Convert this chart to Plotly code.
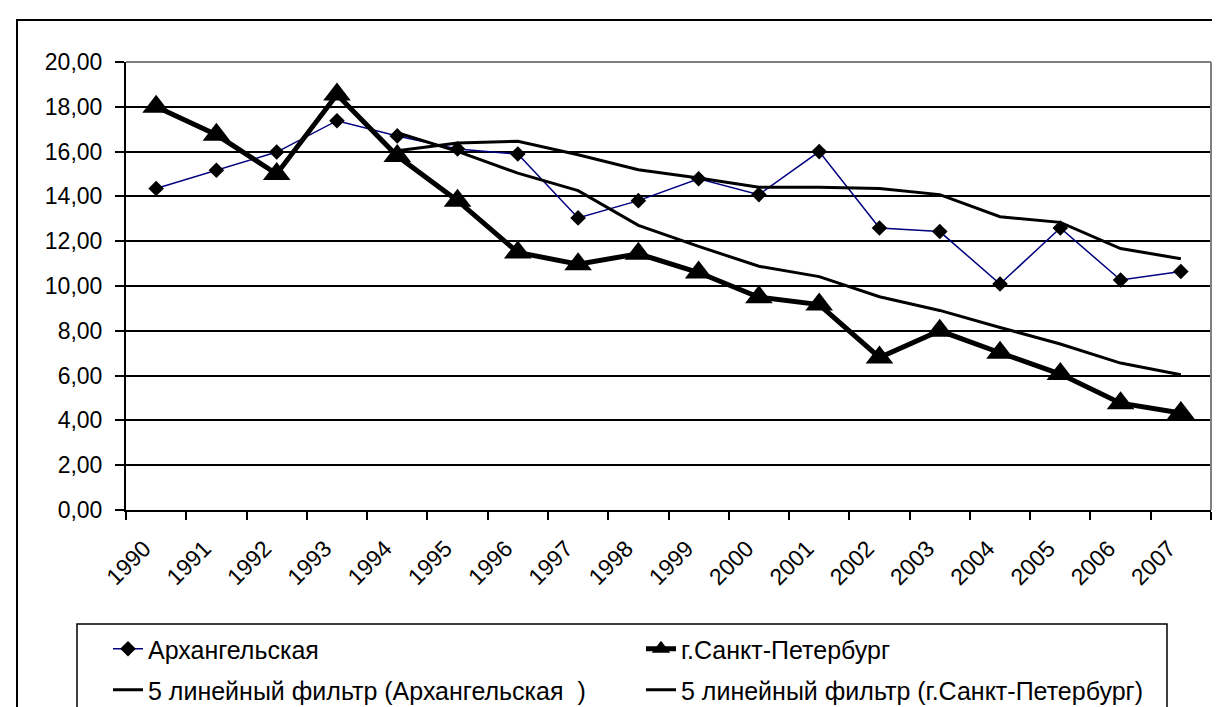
import plotly.graph_objects as go

years = [str(y) for y in range(1990, 2008)]
arkh = [14.35, 15.17, 15.98, 17.38, 16.70, 16.12, 15.89, 13.04, 13.81, 14.79, 14.08,
        16.0, 12.59, 12.43, 10.09, 12.59, 10.27, 10.65]
spb = [18.0, 16.75, 15.0, 18.55, 15.8, 13.81, 11.5, 10.97, 11.44, 10.6, 9.5,
       9.17, 6.81, 8.0, 7.02, 6.07, 4.77, 4.33]
ma_years = years[4:]
arkh_ma = [16.04, 16.38, 16.46, 15.86, 15.19, 14.82, 14.41, 14.41, 14.35, 14.08,
           13.09, 12.84, 11.67, 11.22]
spb_ma = [16.84, 16.01, 15.04, 14.26, 12.71, 11.77, 10.88, 10.42, 9.52, 8.91,
          8.15, 7.41, 6.56, 6.04]

names = ["Архангельская", "г.Санкт-Петербург",
         "5 линейный фильтр (Архангельская  )", "5 линейный фильтр (г.Санкт-Петербург)"]
y_ticks = [0, 2, 4, 6, 8, 10, 12, 14, 16, 18, 20]

W, H = 1220, 707
L, R, T, B = 118, 1203, 54, 502
FONT = "Liberation Sans, Arial, sans-serif"
FS = 23
LFS = 25


def px_x(x):
    return (x - L) / (R - L)


def px_y(y):
    return (B - y) / (B - T)


fig = go.Figure()
fig.add_trace(go.Scatter(x=years, y=arkh, name=names[0], mode="lines+markers",
                         line=dict(color="#000080", width=1.5),
                         marker=dict(symbol="diamond", size=12, color="black"),
                         legend="legend"))
fig.add_trace(go.Scatter(x=years, y=spb, name=names[1], mode="lines+markers",
                         line=dict(color="black", width=5),
                         marker=dict(symbol="triangle-up", size=24, color="black"),
                         legend="legend"))
fig.add_trace(go.Scatter(x=ma_years, y=arkh_ma, name=names[2], mode="lines",
                         line=dict(color="black", width=3), legend="legend2"))
fig.add_trace(go.Scatter(x=ma_years, y=spb_ma, name=names[3], mode="lines",
                         line=dict(color="black", width=3), legend="legend2"))

legend_common = dict(orientation="h", xanchor="left", yanchor="middle",
                     x=px_x(100), entrywidth=488, borderwidth=0,
                     bgcolor="rgba(0,0,0,0)",
                     font=dict(family=FONT, size=LFS, color="black"))

fig.update_layout(
    width=W, height=H,
    margin=dict(l=L, r=W - R, t=T, b=H - B, autoexpand=False),
    paper_bgcolor="white", plot_bgcolor="white",
    separators=", ",
    font=dict(family=FONT, size=FS, color="black"),
    xaxis=dict(type="category", categoryorder="array", categoryarray=years,
               range=[-0.5, 17.5], tickson="boundaries", ticks="outside",
               ticklen=8, tickwidth=2, tickcolor="black", tickangle=-45,
               ticklabelshift=-12, ticklabelstandoff=14,
               showline=True, linecolor="black", linewidth=2, showgrid=False,
               zeroline=False, tickfont=dict(family=FONT, size=FS, color="black")),
    yaxis=dict(range=[0, 20], tickvals=y_ticks, tickformat=".2f",
               ticks="outside", ticklen=9, tickwidth=2, tickcolor="black",
               showline=True, linecolor="black", linewidth=2,
               showgrid=True, gridcolor="black", gridwidth=1.5, zeroline=False,
               ticklabelstandoff=8,
               tickfont=dict(family=FONT, size=FS, color="black")),
    legend=dict(**legend_common, y=px_y(641)),
    legend2=dict(**legend_common, y=px_y(682)),
    shapes=[
        dict(type="rect", xref="paper", yref="paper",
             x0=px_x(9), x1=px_x(1230), y0=px_y(720), y1=px_y(12),
             line=dict(color="black", width=2), fillcolor="rgba(0,0,0,0)", layer="below"),
        dict(type="line", xref="paper", yref="paper", x0=0, x1=1, y0=1, y1=1,
             line=dict(color="#808080", width=2)),
        dict(type="line", xref="paper", yref="paper", x0=1, x1=1, y0=0, y1=1,
             line=dict(color="#808080", width=2)),
        dict(type="rect", xref="paper", yref="paper",
             x0=px_x(69), x1=px_x(1159), y0=px_y(703), y1=px_y(616),
             line=dict(color="black", width=1.5), fillcolor="rgba(0,0,0,0)"),
    ],
)

fig.write_html("out.html")
